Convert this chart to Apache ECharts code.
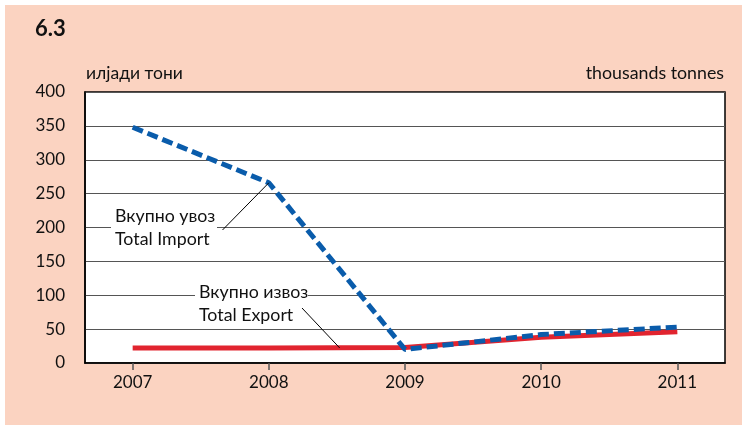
<!DOCTYPE html>
<html><head><meta charset="utf-8">
<script src="https://cdn.jsdelivr.net/npm/echarts@6/dist/echarts.min.js"></script>
<style>
html,body{margin:0;padding:0;background:#fff;}
#wrap{position:relative;width:742px;height:425px;}
#bg{position:absolute;left:5px;top:5px;right:0;bottom:0;background:#FBD3C1;}
#c{position:absolute;left:0;top:0;width:742px;height:425px;}
</style></head>
<body><div id="wrap"><div id="bg"></div><div id="c"></div></div>
<script>
const years = [2007, 2008, 2009, 2010, 2011];
const importVals = [348, 266, 20, 42, 53];
const exportVals = [22, 22, 23, 38, 46];
const yTicks = [0, 50, 100, 150, 200, 250, 300, 350, 400];
const FONT = 'Lato, "Noto Sans", sans-serif';

const chart = echarts.init(document.getElementById('c'));
const option = {
  animation: false,
  grid: {left: 85, right: 17, top: 92, bottom: 62, show: true, backgroundColor: '#fff', borderColor: '#000', borderWidth: 1.5},
  xAxis: {
    type: 'value', min: 2006.65, max: 2011.35,
    axisLine: {show: true, lineStyle: {color: '#000', width: 1.5}},
    axisTick: {show: true, customValues: years, length: 7, lineStyle: {color: '#555', width: 1.5}},
    axisLabel: {customValues: years, color: '#111', fontSize: 17, fontFamily: FONT, margin: 11, formatter: v => String(v)},
    splitLine: {show: false}
  },
  yAxis: {
    type: 'value', min: 0, max: 400, interval: 50,
    axisLine: {show: true, lineStyle: {color: '#000', width: 1.5}},
    axisTick: {show: false},
    axisLabel: {color: '#111', fontSize: 17, fontFamily: FONT, margin: 20},
    splitLine: {show: true, lineStyle: {color: '#555', width: 1}}
  },
  series: [
    {name: 'Total Export', type: 'line', data: years.map((y, i) => [y, exportVals[i]]), symbol: 'none',
     lineStyle: {color: '#E1242F', width: 5}, z: 3},
    {name: 'Total Import', type: 'line', data: years.map((y, i) => [y, importVals[i]]), symbol: 'none',
     lineStyle: {color: '#0A5CAB', width: 5, type: [11, 5]}, z: 4}
  ],
  graphic: [
    {type: 'text', left: 35, top: 18, style: {text: '6.3', font: 'bold 22px ' + FONT, fill: '#111'}},
    {type: 'text', left: 86, top: 64, style: {text: 'илјади тони', font: '17.5px ' + FONT, fill: '#111'}},
    {type: 'text', right: 18, top: 64, style: {text: 'thousands tonnes', font: '17.8px ' + FONT, fill: '#111'}}
  ]
};
chart.setOption(option);

const pImp = chart.convertToPixel({gridIndex: 0}, [years[1], importVals[1]]);
const pExp = chart.convertToPixel({gridIndex: 0}, [2008.52, 22.3]);
chart.setOption({graphic: option.graphic.concat([
  {type: 'rect', shape: {x: 111, y: 206, width: 106, height: 24}, style: {fill: '#fff'}, z: 10},
  {type: 'text', x: 115, y: 205, style: {text: 'Вкупно увоз\nTotal Import', font: '17.8px ' + FONT, fill: '#111', lineHeight: 23}, z: 11},
  {type: 'line', shape: {x1: 222.5, y1: 230, x2: pImp[0], y2: pImp[1]}, style: {stroke: '#000', lineWidth: 1}, z: 11},
  {type: 'rect', shape: {x: 195, y: 283, width: 113, height: 24}, style: {fill: '#fff'}, z: 10},
  {type: 'text', x: 199, y: 281, style: {text: 'Вкупно извоз\nTotal Export', font: '17.8px ' + FONT, fill: '#111', lineHeight: 23}, z: 11},
  {type: 'line', shape: {x1: 302, y1: 308, x2: pExp[0], y2: pExp[1]}, style: {stroke: '#000', lineWidth: 1}, z: 11}
])});
</script></body></html>
